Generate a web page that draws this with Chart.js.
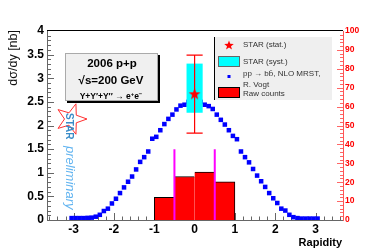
<!DOCTYPE html>
<html>
<head>
<meta charset="utf-8">
<script src="https://cdn.jsdelivr.net/npm/chart.js@4.4.1/dist/chart.umd.min.js"></script>
<style>
  html, body { margin: 0; padding: 0; background: #fff; }
  canvas { display: block; }
</style>
</head>
<body>
<canvas id="upsilonChart" width="392" height="252"></canvas>
<script>
// theory curve, bin centres in rapidity
const rapidity = [-3.05, -2.95, -2.85, -2.75, -2.65, -2.55, -2.45, -2.35, -2.25, -2.15,
  -2.05, -1.95, -1.85, -1.75, -1.65, -1.55, -1.45, -1.35, -1.25, -1.15,
  -1.05, -0.95, -0.85, -0.75, -0.65, -0.55, -0.45, -0.35, -0.25, -0.15,
  -0.05, 0.05, 0.15, 0.25, 0.35, 0.45, 0.55, 0.65, 0.75, 0.85,
  0.95, 1.05, 1.15, 1.25, 1.35, 1.45, 1.55, 1.65, 1.75, 1.85,
  1.95, 2.05, 2.15, 2.25, 2.35, 2.45, 2.55, 2.65, 2.75, 2.85, 2.95, 3.05];
const nloVogt = [0.04, 0.04, 0.04, 0.04, 0.045, 0.05, 0.07, 0.11, 0.19, 0.24,
  0.35, 0.45, 0.57, 0.69, 0.81, 0.92, 1.07, 1.23, 1.33, 1.45,
  1.72, 1.76, 1.90, 2.03, 2.14, 2.23, 2.34, 2.42, 2.44, 2.50,
  2.54, 2.54, 2.50, 2.44, 2.41, 2.35, 2.23, 2.12, 2.02, 1.90,
  1.78, 1.71, 1.45, 1.33, 1.22, 1.08, 0.94, 0.82, 0.70, 0.57,
  0.46, 0.36, 0.24, 0.20, 0.11, 0.06, 0.04, 0.03, 0.03, 0.03, 0.03, 0.03];

// raw counts histogram (right axis)
const rawBins = [-0.75, -0.25, 0.25, 0.75];
const rawCounts = [12, 23, 25.4, 20.2];

// STAR point
const starRapidity = 0;
const starValue = 2.67;
const statRange = [1.84, 3.49];
const systRange = [2.27, 3.31];
const systHalfWidth = 0.2;

// acceptance cut lines
const cutLines = [-0.5, 0.5];
const cutTop = 1.5;

const legendLabels = ['STAR (stat.)', 'STAR (syst.)', 'pp \u2192 bb\u0304, NLO MRST,', 'R. Vogt', 'Raw counts'];
const infoLines = ['2006 p+p', '\u221As=200 GeV'];

const FONT = '"Liberation Sans", Arial, Helvetica, sans-serif';

function starPath(ctx, cx, cy, R, r, rot) {
  ctx.beginPath();
  for (let i = 0; i < 10; i++) {
    const rad = i % 2 ? r : R;
    const a = rot - Math.PI / 2 + i * Math.PI / 5;
    const px = cx + rad * Math.cos(a), py = cy + rad * Math.sin(a);
    if (i) ctx.lineTo(px, py); else ctx.moveTo(px, py);
  }
  ctx.closePath();
}

// red star marker as point image
const starImg = document.createElement('canvas');
starImg.width = 13; starImg.height = 13;
(function () {
  const c = starImg.getContext('2d');
  starPath(c, 6.5, 7, 6.2, 2.6, 0);
  c.fillStyle = '#ff0000';
  c.fill();
})();

const decor = {
  id: 'decor',
  beforeDatasetsDraw(chart) {
    const ctx = chart.ctx, a = chart.chartArea;
    const xs = chart.scales.x, ys = chart.scales.y, y2 = chart.scales.y2;
    ctx.save();
    ctx.lineWidth = 1;
    ctx.strokeStyle = '#666';
    ctx.beginPath();
    for (let i = -18; i <= 18; i++) {
      const v = i * 0.2;
      const px = Math.round(xs.getPixelForValue(v)) + 0.5;
      const len = i % 5 === 0 ? 7 : 3.5;
      ctx.moveTo(px, a.bottom); ctx.lineTo(px, a.bottom - len);
    }
    for (let i = 1; i < 40; i++) {
      const py = Math.round(ys.getPixelForValue(i * 0.1)) + 0.5;
      const len = i % 5 === 0 ? 7 : 4;
      ctx.moveTo(a.left, py); ctx.lineTo(a.left + len, py);
    }
    ctx.stroke();
    ctx.strokeStyle = '#ff6666';
    ctx.beginPath();
    for (let i = 1; i < 50; i++) {
      const py = Math.round(y2.getPixelForValue(i * 2)) + 0.5;
      const len = i % 5 === 0 ? 6 : 3;
      ctx.moveTo(a.right, py); ctx.lineTo(a.right - len, py);
    }
    ctx.stroke();
    ctx.restore();
  },
  afterDatasetDraw(chart, args) {
    if (args.index !== 2) return;
    const ctx = chart.ctx;
    const xs = chart.scales.x, ys = chart.scales.y;
    const xl = xs.getPixelForValue(starRapidity - systHalfWidth);
    const xr = xs.getPixelForValue(starRapidity + systHalfWidth);
    const xc = xs.getPixelForValue(starRapidity);
    ctx.save();
    ctx.fillStyle = '#00ffff';
    const yt = ys.getPixelForValue(systRange[1]), yb = ys.getPixelForValue(systRange[0]);
    ctx.fillRect(xl, yt, xr - xl, yb - yt);
    ctx.strokeStyle = '#ff0000';
    ctx.lineWidth = 1.2;
    const st = ys.getPixelForValue(statRange[1]), sb = ys.getPixelForValue(statRange[0]);
    ctx.beginPath();
    ctx.moveTo(xc, st); ctx.lineTo(xc, sb);
    ctx.moveTo(xl, st); ctx.lineTo(xr, st);
    ctx.moveTo(xl, sb); ctx.lineTo(xr, sb);
    ctx.stroke();
    ctx.restore();
  },
  afterDraw(chart) {
    const ctx = chart.ctx, a = chart.chartArea;
    ctx.save();
    // top frame
    ctx.strokeStyle = '#000';
    ctx.lineWidth = 1;
    ctx.beginPath();
    ctx.moveTo(a.left, Math.round(a.top) - 0.5); ctx.lineTo(a.right, Math.round(a.top) - 0.5);
    ctx.stroke();

    // axis titles
    ctx.fillStyle = '#000';
    ctx.font = 'bold 11px ' + FONT;
    ctx.textAlign = 'right';
    ctx.textBaseline = 'alphabetic';
    ctx.fillText('Rapidity', 342, 246);
    ctx.save();
    ctx.translate(17, 30);
    ctx.rotate(-Math.PI / 2);
    ctx.fillStyle = '#111';
    ctx.font = '12.5px ' + FONT;
    ctx.fillText('d\u03C3/dy [nb]', 0, 0);
    ctx.restore();

    // info box
    ctx.fillStyle = '#f0f0f0';
    ctx.fillRect(65, 53, 93, 48);
    ctx.strokeStyle = '#aaa';
    ctx.strokeRect(65.5, 53.5, 92, 47);
    ctx.fillStyle = '#000';
    ctx.fillRect(158, 55, 2, 48);
    ctx.fillRect(67, 101, 93, 2);
    ctx.font = 'bold 11.5px ' + FONT;
    ctx.textAlign = 'center';
    ctx.textBaseline = 'middle';
    ctx.fillText(infoLines[0], 112, 64);
    ctx.fillText(infoLines[1], 111, 81);
    // upsilon line with superscripts
    const parts = [['\u03A5+\u03A5\u2032+\u03A5\u2032\u2032 \u2192 e', false], ['+', true], ['e', false], ['\u2212', true]];
    const fNorm = 'bold 8.5px ' + FONT, fSup = 'bold 6px ' + FONT;
    let w = 0;
    parts.forEach(p => { ctx.font = p[1] ? fSup : fNorm; w += ctx.measureText(p[0]).width; });
    let x = 111 - w / 2;
    ctx.textAlign = 'left';
    parts.forEach(p => {
      ctx.font = p[1] ? fSup : fNorm;
      ctx.fillText(p[0], x, p[1] ? 94 : 97);
      x += ctx.measureText(p[0]).width;
    });

    // legend
    ctx.fillStyle = '#efefef';
    ctx.fillRect(214, 37, 118, 63);
    ctx.fillStyle = '#000';
    ctx.fillRect(214, 37, 1, 63);
    starPath(ctx, 229, 45.5, 5, 2.1, 0);
    ctx.fillStyle = '#ff0000';
    ctx.fill();
    ctx.fillStyle = '#00ffff';
    ctx.fillRect(218, 56, 22, 10);
    ctx.strokeStyle = '#666';
    ctx.strokeRect(218.5, 56.5, 21, 10);
    ctx.fillStyle = '#0000ff';
    ctx.fillRect(227.5, 75, 3, 3);
    ctx.fillStyle = '#ff0000';
    ctx.fillRect(218, 87, 22, 11);
    ctx.strokeStyle = '#000';
    ctx.strokeRect(218.5, 87.5, 21, 10);
    ctx.fillStyle = '#333';
    ctx.font = '8px ' + FONT;
    ctx.textAlign = 'left';
    ctx.textBaseline = 'middle';
    const ly = [45, 61.5, 74, 84.5, 93.5];
    legendLabels.forEach((t, i) => ctx.fillText(t, 243, ly[i]));

    // STAR preliminary logo
    starPath(ctx, 71, 119, 16, 6.5, Math.PI / 2);
    ctx.strokeStyle = '#ff3030';
    ctx.lineWidth = 1;
    ctx.stroke();
    ctx.save();
    ctx.translate(69, 113);
    ctx.rotate(Math.PI / 2);
    ctx.textAlign = 'left';
    ctx.textBaseline = 'middle';
    ctx.fillStyle = '#3a8cc8';
    ctx.font = 'bold 10px ' + FONT;
    ctx.fillText('STAR', 0, 0);
    ctx.fillStyle = '#62b4f0';
    ctx.font = 'italic 13px ' + FONT;
    ctx.fillText('preliminary', 33, -1);
    ctx.restore();
    ctx.restore();
  }
};

const tickFont = { family: FONT, size: 12, weight: 'bold' };

new Chart(document.getElementById('upsilonChart').getContext('2d'), {
  type: 'scatter',
  data: {
    datasets: [
      {
        type: 'bar',
        label: 'Raw counts',
        data: rawBins.map((x, i) => ({ x: x, y: rawCounts[i] })),
        yAxisID: 'y2',
        backgroundColor: '#ff0000',
        borderColor: '#000',
        borderWidth: c => ({ top: 1, bottom: 0, left: c.dataIndex === 0 ? 1 : 0, right: c.dataIndex === rawBins.length - 1 ? 1 : 0 }),
        borderSkipped: false,
        barPercentage: 1,
        categoryPercentage: 1,
        order: 5
      },
      {
        type: 'line',
        label: 'cuts',
        data: [{ x: cutLines[0], y: 0 }, { x: cutLines[0], y: cutTop }, { x: 0, y: null },
               { x: cutLines[1], y: 0 }, { x: cutLines[1], y: cutTop }],
        yAxisID: 'y',
        borderColor: '#ff00ff',
        borderWidth: 2,
        pointRadius: 0,
        spanGaps: false,
        order: 4
      },
      {
        type: 'scatter',
        label: 'NLO MRST',
        data: rapidity.map((x, i) => ({ x: x, y: nloVogt[i] })),
        yAxisID: 'y',
        pointStyle: 'rect',
        pointRadius: 3.2,
        backgroundColor: '#0000ff',
        borderWidth: 0,
        order: 3
      },
      {
        type: 'scatter',
        label: 'STAR (stat.)',
        data: [{ x: starRapidity, y: starValue }],
        yAxisID: 'y',
        pointStyle: starImg,
        order: 1
      }
    ]
  },
  options: {
    responsive: false,
    animation: false,
    devicePixelRatio: 1,
    layout: { padding: { top: 31, left: 0, right: 0, bottom: 0 } },
    plugins: { legend: { display: false }, tooltip: { enabled: false } },
    scales: {
      x: {
        type: 'linear',
        position: 'bottom',
        min: -3.66,
        max: 3.68,
        offset: false,
        afterFit: s => { s.height = 32; },
        grid: { display: false, drawTicks: false },
        border: { display: true, color: '#666', width: 1 },
        ticks: {
          stepSize: 1,
          includeBounds: false,
          padding: 2,
          color: '#000',
          font: tickFont,
          callback: v => Number.isInteger(v) ? String(v) : ''
        }
      },
      y: {
        type: 'linear',
        position: 'left',
        min: 0,
        max: 4,
        afterFit: s => { s.width = 47; },
        grid: { display: false, drawTicks: false },
        border: { display: true, color: '#666', width: 1 },
        ticks: {
          stepSize: 0.5,
          padding: 3,
          color: '#000',
          font: tickFont,
          callback: v => String(+v.toFixed(1))
        }
      },
      y2: {
        type: 'linear',
        position: 'right',
        min: 0,
        max: 100,
        afterFit: s => { s.width = 49; },
        grid: { display: false, drawTicks: false },
        border: { display: true, color: '#ff5555', width: 1 },
        ticks: {
          stepSize: 10,
          padding: 2,
          color: '#ff0000',
          font: { family: FONT, size: 8.5, weight: 'bold' }
        }
      }
    }
  },
  plugins: [decor]
});
</script>
</body>
</html>
